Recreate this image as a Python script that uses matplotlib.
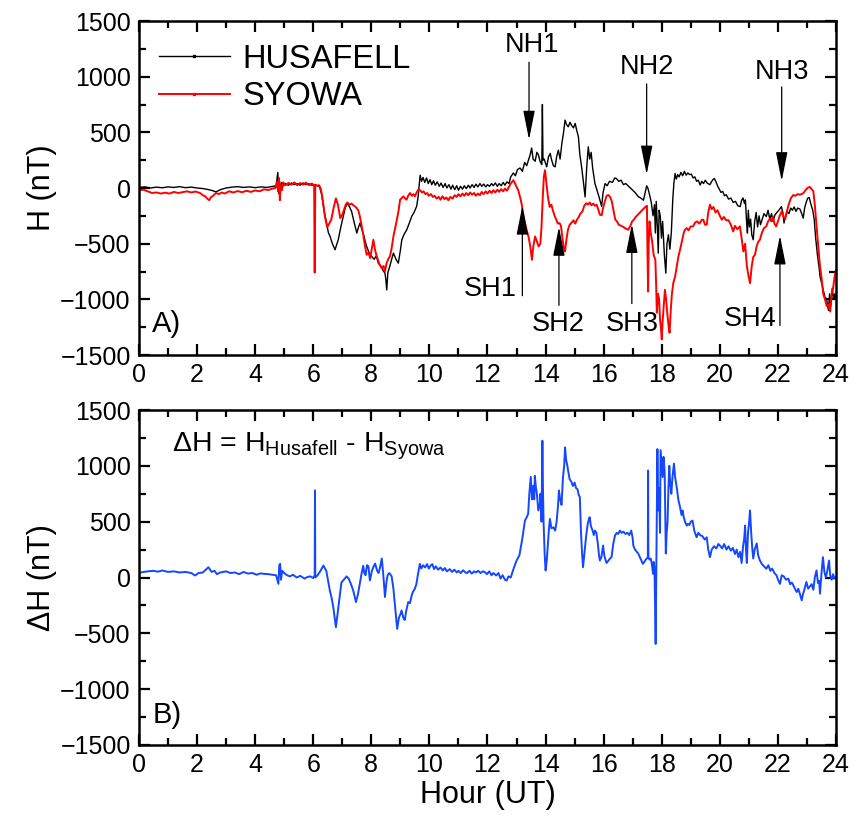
import matplotlib
matplotlib.use("Agg")
import matplotlib.pyplot as plt
from matplotlib.lines import Line2D
from matplotlib.ticker import MultipleLocator

plt.rcParams['font.family'] = ['Liberation Sans', 'DejaVu Sans']
plt.rcParams['mathtext.fontset'] = 'custom'
plt.rcParams['mathtext.rm'] = 'Liberation Sans'
plt.rcParams['mathtext.it'] = 'Liberation Sans'

# ---------------- data (hour UT, nT) ----------------
husafell = [(0.0,5),(0.2,10),(0.4,0),(0.6,8),(0.8,2),(1.0,10),(1.2,5),(1.4,12),(1.6,3),(1.8,8),(2.0,0),(2.2,-5),(2.4,-15),(2.55,-25),(2.65,-35),(2.8,-15),(3.0,0),(3.2,8),(3.4,12),(3.6,5),(3.8,10),(4.0,3),(4.2,10),(4.4,5),(4.6,15),(4.72,20),(4.78,140),(4.81,-50),(4.84,60),(4.88,-10),(4.92,50),(4.97,20),(5.05,40),(5.15,25),(5.25,45),(5.35,30),(5.45,40),(5.55,25),(5.65,45),(5.75,30),(5.85,38),(5.95,25),(6.05,30),(6.15,20),(6.22,10),(6.29,-60),(6.37,-200),(6.46,-315),(6.52,-400),(6.58,-436),(6.66,-500),(6.75,-555),(6.86,-465),(6.95,-350),(7.03,-257),(7.1,-180),(7.17,-137),(7.25,-170),(7.32,-210),(7.4,-300),(7.5,-405),(7.56,-350),(7.61,-315),(7.67,-370),(7.72,-405),(7.78,-470),(7.84,-525),(7.92,-580),(8.01,-615),(8.1,-640),(8.17,-610),(8.24,-675),(8.32,-700),(8.4,-740),(8.47,-765),(8.5,-820),(8.53,-915),(8.57,-760),(8.64,-700),(8.7,-640),(8.76,-585),(8.85,-640),(8.93,-675),(9.0,-560),(9.05,-465),(9.12,-420),(9.22,-375),(9.3,-320),(9.39,-255),(9.47,-220),(9.56,-165),(9.61,-80),(9.64,0),(9.68,115),(9.73,60),(9.78,95),(9.84,50),(9.9,90),(9.96,40),(10.02,75),(10.08,30),(10.14,65),(10.2,25),(10.27,55),(10.34,15),(10.4,45),(10.47,5),(10.54,40),(10.6,0),(10.67,30),(10.74,-10),(10.8,25),(10.87,-15),(10.94,20),(11.0,-20),(11.07,15),(11.14,-10),(11.2,20),(11.27,-5),(11.34,25),(11.4,0),(11.47,30),(11.54,5),(11.6,35),(11.67,10),(11.74,40),(11.8,15),(11.87,35),(11.94,10),(12.0,30),(12.07,15),(12.14,40),(12.2,20),(12.27,45),(12.34,15),(12.4,40),(12.47,20),(12.54,50),(12.6,25),(12.67,55),(12.74,40),(12.8,100),(12.89,135),(12.96,110),(13.03,165),(13.12,180),(13.2,150),(13.28,230),(13.35,200),(13.41,250),(13.47,300),(13.52,360),(13.57,260),(13.64,240),(13.7,320),(13.75,300),(13.81,240),(13.87,210),(13.89,750),(13.91,250),(13.95,260),(14.04,190),(14.1,280),(14.16,310),(14.21,250),(14.27,200),(14.33,190),(14.38,280),(14.44,340),(14.5,260),(14.56,400),(14.62,500),(14.67,610),(14.72,570),(14.78,550),(14.84,590),(14.9,560),(14.96,540),(15.02,580),(15.07,520),(15.13,460),(15.18,300),(15.24,190),(15.3,60),(15.36,-80),(15.42,200),(15.47,370),(15.52,260),(15.57,320),(15.62,180),(15.7,40),(15.78,-30),(15.84,-80),(15.93,-165),(15.98,-40),(16.05,40),(16.12,20),(16.2,60),(16.3,50),(16.38,90),(16.44,85),(16.52,60),(16.6,70),(16.68,30),(16.76,40),(16.84,20),(16.92,0),(17.0,-20),(17.08,-40),(17.14,-60),(17.2,-80),(17.28,-90),(17.37,-110),(17.43,-40),(17.48,20),(17.52,0),(17.58,-60),(17.64,-130),(17.7,-250),(17.75,-150),(17.78,-405),(17.81,-120),(17.85,-350),(17.88,-585),(17.91,-200),(17.95,-255),(17.99,-450),(18.03,-300),(18.09,-600),(18.14,-765),(18.18,-500),(18.23,-420),(18.28,-550),(18.33,-400),(18.38,-100),(18.42,50),(18.46,130),(18.5,80),(18.55,120),(18.6,100),(18.66,140),(18.72,110),(18.78,150),(18.84,115),(18.9,135),(18.96,120),(19.02,125),(19.08,90),(19.14,100),(19.2,60),(19.26,70),(19.32,27),(19.38,60),(19.44,40),(19.5,70),(19.56,45),(19.62,35),(19.66,30),(19.72,60),(19.78,80),(19.81,85),(19.86,60),(19.92,20),(19.98,-10),(20.04,-40),(20.1,-30),(20.16,-70),(20.22,-60),(20.3,-100),(20.38,-90),(20.46,-130),(20.54,-120),(20.62,-160),(20.7,-167),(20.75,-110),(20.8,-90),(20.85,-140),(20.88,-107),(20.92,-300),(20.95,-405),(20.98,-200),(21.02,-350),(21.06,-280),(21.1,-420),(21.15,-465),(21.2,-300),(21.25,-220),(21.3,-350),(21.35,-250),(21.4,-330),(21.46,-280),(21.52,-230),(21.6,-257),(21.66,-200),(21.72,-280),(21.78,-230),(21.83,-300),(21.9,-240),(22.0,-210),(22.06,-190),(22.12,-167),(22.17,-220),(22.21,-315),(22.26,-250),(22.32,-210),(22.38,-230),(22.44,-180),(22.5,-200),(22.56,-170),(22.62,-210),(22.68,-180),(22.76,-190),(22.82,-230),(22.87,-270),(22.92,-180),(22.97,-130),(23.03,-90),(23.08,-86),(23.14,-150),(23.2,-200),(23.25,-285),(23.3,-450),(23.36,-600),(23.42,-720),(23.45,-795),(23.5,-850),(23.56,-920),(23.62,-980),(23.68,-1000),(23.74,-1100),(23.78,-950),(23.82,-1060),(23.87,-900),(23.92,-1000),(23.96,-950),(24.0,-1000)]

syowa = [(0.0,-20),(0.15,-15),(0.3,-30),(0.45,-45),(0.6,-40),(0.75,-50),(0.9,-42),(1.05,-50),(1.2,-35),(1.35,-45),(1.5,-38),(1.65,-30),(1.8,-40),(1.95,-32),(2.1,-45),(2.2,-65),(2.28,-75),(2.35,-95),(2.42,-110),(2.47,-85),(2.55,-70),(2.65,-45),(2.75,-55),(2.85,-40),(2.95,-50),(3.1,-30),(3.25,-40),(3.4,-28),(3.55,-38),(3.7,-25),(3.85,-35),(4.0,-22),(4.15,-30),(4.3,-12),(4.45,-18),(4.6,-5),(4.7,0),(4.76,60),(4.79,-30),(4.82,90),(4.85,-110),(4.88,30),(4.92,-20),(4.97,50),(5.05,25),(5.15,45),(5.25,30),(5.35,50),(5.45,25),(5.55,45),(5.65,30),(5.75,48),(5.85,25),(5.95,40),(6.03,25),(6.05,-760),(6.07,30),(6.14,20),(6.2,25),(6.25,0),(6.3,-60),(6.35,-150),(6.4,-255),(6.48,-352),(6.55,-320),(6.62,-285),(6.7,-180),(6.78,-93),(6.85,-150),(6.93,-270),(7.0,-240),(7.06,-195),(7.12,-150),(7.17,-130),(7.25,-150),(7.32,-140),(7.38,-155),(7.46,-170),(7.55,-200),(7.6,-250),(7.65,-315),(7.72,-420),(7.78,-520),(7.84,-600),(7.9,-580),(7.96,-630),(8.02,-540),(8.07,-465),(8.13,-560),(8.19,-615),(8.27,-680),(8.36,-720),(8.42,-700),(8.47,-750),(8.52,-680),(8.58,-640),(8.64,-615),(8.7,-540),(8.76,-435),(8.82,-360),(8.88,-285),(8.94,-200),(8.99,-105),(9.05,-90),(9.1,-75),(9.15,-90),(9.21,-105),(9.27,-70),(9.33,-45),(9.4,-70),(9.45,-55),(9.5,-75),(9.56,-40),(9.62,-15),(9.68,-20),(9.74,-40),(9.8,-30),(9.86,-55),(9.92,-45),(9.98,-70),(10.05,-55),(10.12,-80),(10.18,-70),(10.25,-95),(10.32,-80),(10.38,-105),(10.45,-75),(10.52,-100),(10.58,-85),(10.65,-110),(10.72,-80),(10.8,-95),(10.87,-65),(10.94,-80),(11.0,-55),(11.07,-75),(11.14,-50),(11.2,-70),(11.27,-45),(11.34,-65),(11.4,-40),(11.47,-60),(11.54,-45),(11.6,-70),(11.67,-50),(11.74,-65),(11.8,-35),(11.87,-55),(11.94,-30),(12.0,-50),(12.07,-25),(12.14,-45),(12.2,-20),(12.27,-40),(12.34,-15),(12.4,-35),(12.47,-10),(12.54,-30),(12.6,-5),(12.67,-25),(12.74,10),(12.8,40),(12.89,70),(12.95,40),(13.0,10),(13.06,-20),(13.12,-80),(13.18,-150),(13.24,-250),(13.29,-315),(13.35,-380),(13.41,-435),(13.47,-520),(13.53,-645),(13.58,-520),(13.64,-435),(13.7,-480),(13.76,-525),(13.82,-500),(13.86,-350),(13.9,-100),(13.94,100),(13.98,160),(14.03,40),(14.08,-80),(14.14,-170),(14.2,-150),(14.25,-200),(14.31,-250),(14.37,-285),(14.42,-320),(14.48,-315),(14.53,-340),(14.58,-450),(14.63,-540),(14.67,-570),(14.72,-460),(14.77,-375),(14.83,-330),(14.9,-310),(14.96,-290),(15.02,-320),(15.08,-285),(15.14,-260),(15.2,-230),(15.27,-210),(15.33,-160),(15.4,-137),(15.46,-150),(15.52,-130),(15.58,-155),(15.64,-140),(15.7,-160),(15.76,-150),(15.82,-200),(15.87,-240),(15.93,-245),(15.98,-180),(16.04,-120),(16.1,-70),(16.16,-63),(16.22,-80),(16.28,-120),(16.34,-200),(16.4,-285),(16.46,-300),(16.52,-330),(16.6,-340),(16.68,-350),(16.76,-365),(16.85,-375),(16.92,-340),(16.98,-300),(17.04,-285),(17.1,-260),(17.18,-240),(17.25,-220),(17.32,-200),(17.38,-185),(17.44,-170),(17.49,-160),(17.51,-600),(17.53,-930),(17.55,-500),(17.58,-300),(17.62,-400),(17.67,-480),(17.72,-600),(17.78,-645),(17.81,-900),(17.83,-1120),(17.87,-950),(17.91,-1000),(17.94,-1180),(17.97,-1250),(18.0,-1360),(18.03,-1200),(18.07,-1050),(18.11,-915),(18.15,-1000),(18.2,-1150),(18.24,-1250),(18.27,-1300),(18.31,-1100),(18.35,-950),(18.4,-850),(18.46,-795),(18.52,-700),(18.57,-620),(18.63,-555),(18.7,-470),(18.76,-400),(18.8,-375),(18.86,-360),(18.92,-380),(19.0,-345),(19.08,-345),(19.15,-310),(19.22,-300),(19.3,-320),(19.38,-285),(19.43,-285),(19.49,-330),(19.55,-330),(19.6,-220),(19.66,-150),(19.72,-190),(19.78,-170),(19.85,-220),(19.92,-200),(20.0,-250),(20.07,-285),(20.14,-260),(20.22,-290),(20.3,-290),(20.38,-330),(20.46,-390),(20.52,-340),(20.6,-370),(20.69,-345),(20.75,-450),(20.81,-570),(20.87,-500),(20.93,-700),(20.98,-780),(21.04,-855),(21.1,-700),(21.15,-620),(21.21,-600),(21.27,-520),(21.33,-480),(21.38,-465),(21.45,-400),(21.52,-360),(21.6,-345),(21.66,-300),(21.72,-280),(21.78,-300),(21.83,-255),(21.88,-320),(21.94,-345),(22.0,-300),(22.06,-250),(22.13,-210),(22.19,-260),(22.25,-280),(22.32,-200),(22.38,-140),(22.45,-90),(22.53,-63),(22.6,-70),(22.68,-55),(22.76,-60),(22.87,-48),(22.95,-20),(23.02,0),(23.1,10),(23.16,-10),(23.22,-30),(23.27,-150),(23.33,-345),(23.38,-500),(23.45,-705),(23.5,-800),(23.56,-950),(23.62,-1000),(23.68,-1060),(23.74,-1050),(23.8,-1110),(23.85,-950),(23.9,-900),(23.95,-800),(24.0,-735)]

delta_h = [(0.0,40),(0.1,47),(0.3,55),(0.5,60),(0.65,52),(0.8,63),(1.0,50),(1.2,55),(1.4,45),(1.6,50),(1.8,40),(1.93,18),(2.05,40),(2.2,45),(2.3,70),(2.39,92),(2.5,50),(2.6,60),(2.68,30),(2.8,45),(3.0,55),(3.15,40),(3.3,45),(3.45,30),(3.6,50),(3.75,35),(3.9,40),(4.05,25),(4.2,38),(4.28,33),(4.45,30),(4.6,25),(4.72,20),(4.8,-57),(4.83,110),(4.86,122),(4.89,-20),(4.93,60),(5.0,40),(5.1,20),(5.2,10),(5.3,25),(5.43,0),(5.55,15),(5.7,-10),(5.8,5),(5.9,10),(6.0,-5),(6.05,20),(6.06,780),(6.07,0),(6.15,20),(6.25,60),(6.35,107),(6.45,60),(6.57,-116),(6.63,-180),(6.69,-265),(6.78,-445),(6.85,-300),(6.92,-150),(6.97,-45),(7.05,-20),(7.15,10),(7.22,-10),(7.3,-60),(7.38,-120),(7.47,-220),(7.54,-150),(7.6,-60),(7.66,30),(7.72,105),(7.76,40),(7.8,20),(7.85,110),(7.9,100),(7.95,-27),(8.02,60),(8.08,100),(8.13,125),(8.2,60),(8.25,40),(8.3,90),(8.36,170),(8.41,30),(8.47,-175),(8.52,-40),(8.56,20),(8.62,40),(8.7,10),(8.76,-100),(8.81,-235),(8.85,-350),(8.89,-460),(8.95,-360),(9.0,-330),(9.04,-295),(9.1,-360),(9.15,-380),(9.2,-300),(9.27,-220),(9.33,-230),(9.38,-170),(9.43,-130),(9.5,-100),(9.55,-60),(9.6,20),(9.67,122),(9.72,80),(9.78,110),(9.85,90),(9.92,120),(9.98,80),(10.05,110),(10.1,120),(10.16,75),(10.22,100),(10.3,70),(10.38,90),(10.46,63),(10.53,85),(10.6,55),(10.7,75),(10.78,50),(10.86,70),(10.94,45),(11.0,60),(11.08,40),(11.16,65),(11.24,45),(11.3,40),(11.38,60),(11.46,35),(11.54,55),(11.6,45),(11.68,60),(11.76,40),(11.84,55),(11.9,50),(11.98,30),(12.06,55),(12.14,20),(12.2,40),(12.3,18),(12.38,40),(12.45,-10),(12.52,20),(12.6,-20),(12.66,-27),(12.72,10),(12.8,0),(12.9,80),(13.0,152),(13.1,200),(13.2,350),(13.29,510),(13.35,540),(13.4,570),(13.44,750),(13.49,900),(13.53,700),(13.57,820),(13.61,700),(13.63,910),(13.67,800),(13.7,750),(13.75,600),(13.8,650),(13.82,750),(13.86,500),(13.89,1225),(13.91,800),(13.93,500),(13.97,200),(14.0,63),(14.04,150),(14.08,300),(14.12,450),(14.15,525),(14.2,440),(14.27,450),(14.33,420),(14.38,500),(14.43,650),(14.46,780),(14.5,700),(14.55,650),(14.6,900),(14.64,1000),(14.67,1165),(14.71,1050),(14.75,1000),(14.78,950),(14.83,880),(14.89,855),(14.94,820),(15.0,850),(15.05,800),(15.1,790),(15.14,740),(15.18,720),(15.22,400),(15.26,200),(15.29,92),(15.33,200),(15.37,300),(15.4,380),(15.45,480),(15.49,520),(15.52,540),(15.56,460),(15.62,420),(15.66,380),(15.7,420),(15.75,400),(15.8,300),(15.84,200),(15.87,152),(15.92,180),(15.98,287),(16.02,200),(16.06,160),(16.1,130),(16.16,150),(16.22,170),(16.27,182),(16.33,300),(16.39,376),(16.45,400),(16.5,390),(16.56,420),(16.62,400),(16.68,410),(16.75,390),(16.82,400),(16.88,380),(16.95,420),(17.0,350),(17.02,287),(17.08,250),(17.14,230),(17.19,215),(17.25,180),(17.3,150),(17.35,122),(17.4,140),(17.45,160),(17.52,180),(17.53,958),(17.54,180),(17.58,160),(17.62,170),(17.66,120),(17.7,33),(17.72,140),(17.75,80),(17.79,-595),(17.82,300),(17.85,1150),(17.88,600),(17.91,800),(17.94,400),(17.96,1140),(18.0,1000),(18.03,900),(18.06,1080),(18.1,950),(18.14,215),(18.17,400),(18.2,500),(18.23,800),(18.26,1000),(18.29,850),(18.33,750),(18.37,900),(18.42,1020),(18.46,900),(18.52,800),(18.57,700),(18.63,630),(18.68,560),(18.72,600),(18.75,550),(18.8,500),(18.86,465),(18.9,480),(18.95,470),(19.0,500),(19.06,510),(19.12,420),(19.2,360),(19.26,400),(19.32,380),(19.4,370),(19.48,340),(19.55,360),(19.6,250),(19.66,182),(19.72,250),(19.8,280),(19.88,260),(19.95,300),(20.0,287),(20.08,260),(20.15,300),(20.23,250),(20.3,280),(20.38,240),(20.45,265),(20.52,210),(20.58,250),(20.64,182),(20.7,230),(20.75,130),(20.8,280),(20.84,350),(20.87,465),(20.9,250),(20.93,130),(20.97,400),(21.01,500),(21.04,600),(21.08,400),(21.12,250),(21.15,170),(21.2,250),(21.27,305),(21.32,200),(21.38,152),(21.45,120),(21.52,100),(21.6,78),(21.67,110),(21.74,60),(21.8,80),(21.88,40),(21.95,20),(22.02,-30),(22.07,-57),(22.13,20),(22.2,10),(22.28,-20),(22.36,-10),(22.42,-60),(22.48,-45),(22.55,-80),(22.6,-110),(22.65,-130),(22.7,-100),(22.76,-150),(22.82,-205),(22.86,-150),(22.9,-120),(22.98,-40),(23.04,-100),(23.1,-80),(23.16,-60),(23.22,-110),(23.27,0),(23.33,63),(23.38,-50),(23.42,-30),(23.45,-145),(23.5,40),(23.55,182),(23.6,50),(23.65,0),(23.7,60),(23.76,152),(23.8,20),(23.85,-20),(23.9,30),(23.95,-10),(24.0,0)]

hus_t, hus_h = zip(*husafell)
syo_t, syo_h = zip(*syowa)
dh_t, dh_v = zip(*delta_h)

x_ticks = list(range(0, 25, 2))
y_ticks = [-1500, -1000, -500, 0, 500, 1000, 1500]

# annotation arrows: (label, text_x, text_y, arrow_x, arrow_start_y, arrow_tip_y)
nh_marks = [("NH1", 13.53, 1283, 13.43, 1130, 435),
            ("NH2", 17.49, 1090, 17.48, 935, 122),
            ("NH3", 22.14, 1045, 22.13, 908, 63)]
sh_marks = [("SH1", 12.09, -906, 13.20, -967, -160),
            ("SH2", 14.43, -1219, 14.46, -1054, -350),
            ("SH3", 16.98, -1219, 16.97, -1038, -325),
            ("SH4", 21.04, -1174, 22.07, -1235, -428)]

# ---------------- figure ----------------
W, H = 854, 823
fig = plt.figure(figsize=(W / 100, H / 100), dpi=100)
ax1 = fig.add_axes([139 / W, 1 - 355 / H, (836 - 139) / W, (355 - 21) / H])
ax2 = fig.add_axes([139 / W, 1 - 745 / H, (836 - 139) / W, (745 - 410) / H])

tick_fs = 18
label_fs = 22

for ax in (ax1, ax2):
    ax.set_xlim(0, 24)
    ax.set_ylim(-1500, 1500)
    ax.set_xticks(x_ticks)
    ax.set_yticks(y_ticks)
    ax.xaxis.set_minor_locator(MultipleLocator(1))
    ax.yaxis.set_minor_locator(MultipleLocator(250))
    ax.tick_params(which='both', direction='in', top=True, right=True,
                   width=1.6, labelsize=tick_fs, pad=6)
    ax.tick_params(which='major', length=8)
    ax.tick_params(which='minor', length=5)
    for sp in ax.spines.values():
        sp.set_linewidth(1.8)

ax1.plot(hus_t, hus_h, color='black', lw=1.0)
ax1.plot(syo_t, syo_h, color='#ff0000', lw=1.4)
ax2.plot(dh_t, dh_v, color='#1447ff', lw=1.4)

ax1.set_ylabel("H (nT)", fontsize=label_fs, labelpad=2)
ax2.set_ylabel("ΔH (nT)", fontsize=label_fs, labelpad=2)
ax2.set_xlabel("Hour (UT)", fontsize=label_fs, labelpad=2)

handles = [Line2D([], [], color='black', lw=1.0, marker='s', ms=1.5),
           Line2D([], [], color='#ff0000', lw=1.4, marker='s', ms=1.5)]
ax1.legend(handles, ["HUSAFELL", "SYOWA"], loc='upper left', frameon=False,
           fontsize=23.5, handlelength=2.2, handletextpad=0.36, labelspacing=0.2,
           borderaxespad=0.2, bbox_to_anchor=(0.0, 0.99))

arrow_style = dict(arrowstyle='-|>,head_length=0.9,head_width=0.18',
                   color='black', lw=0.9, shrinkA=0, shrinkB=0, mutation_scale=20)
for lab, tx, ty, ax_x, y0, y1 in nh_marks + sh_marks:
    ax1.text(tx, ty, lab, fontsize=19.5, ha='center', va='center')
    ax1.annotate('', xy=(ax_x, y1), xytext=(ax_x, y0), arrowprops=arrow_style)

ax1.text(0.96, -1218, "A)", fontsize=21, ha='center', va='center')
ax2.text(0.96, -1232, "B)", fontsize=21, ha='center', va='center')
ax2.text(1.14, 1170, r"ΔH = H$_{\mathrm{Husafell}}$ - H$_{\mathrm{Syowa}}$",
         fontsize=20.5, ha='left', va='center')

fig.savefig("out.png", dpi=100)
